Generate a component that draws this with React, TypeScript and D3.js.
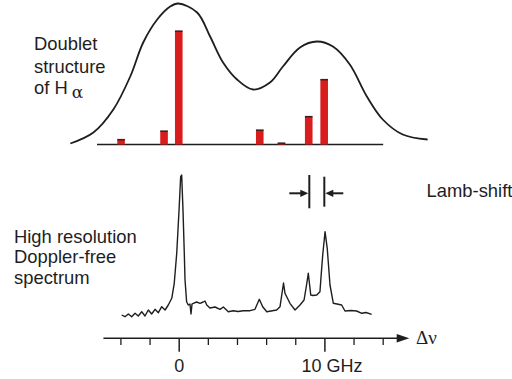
import React from "react";
import * as d3 from "d3";

// Upper panel: Doppler-broadened envelope [GHz, intensity]
const envelopeGHz = [-7.47, -5.89, -4.52, -3.36, -2.47, -1.51, -0.62, -0.07, 1.23, 2.12, 3.01, 3.97, 5.07, 6.23, 7.12, 8.29, 9.45, 10.55, 11.71, 12.88, 13.97, 15.34, 17.05];
const envelopeInt = [1, 12, 35, 68, 102, 125, 138, 141, 132, 108, 82, 65, 55, 62, 78, 97, 103, 98, 80, 48, 25, 10, 5];

// Fine-structure components (stick spectrum)
const lineGHz = [-3.99, -1.04, -0.03, 5.53, 7.02, 8.89, 9.95];
const lineInt = [5, 13.5, 113.5, 14.5, 1.5, 28, 65];

// Lower panel: Doppler-free spectrum [GHz, signal]
const specGHz = [-3.95, -3.72, -3.49, -3.26, -3.03, -2.81, -2.57, -2.35, -2.12, -1.89, -1.66, -1.43, -1.2, -0.97, -0.75, -0.51, -0.34, -0.17, -0.01, 0.1, 0.17, 0.26, 0.35, 0.4, 0.51, 0.62, 0.74, 0.81, 0.88, 0.97, 1.2, 1.43, 1.65, 1.77, 1.89, 2.11, 2.46, 2.8, 3.03, 3.37, 3.71, 4.04, 4.4, 4.86, 5.2, 5.5, 5.73, 6.01, 6.3, 6.69, 6.92, 7.16, 7.26, 7.49, 7.6, 7.95, 8.29, 8.57, 8.74, 8.86, 9.03, 9.18, 9.44, 9.66, 9.77, 9.85, 10.01, 10.16, 10.35, 10.58, 10.83, 11.15, 11.38, 11.79, 12.18, 12.53, 12.82, 13.21];
const specInt = [1, -0.7, 2, -0.7, 2.7, 0, 4.3, 0, 6, 2, 6.7, 3.3, 9.3, 6, 11, 17.7, 32.7, 62.7, 106, 139.3, 141, 106, 62.7, 36, 14.3, 11, 12, 2, 12, 12.7, 14, 12.7, 14, 15, 11, 8, 9, 6.7, 9, 4.3, 5.3, 4.5, 5.3, 5.3, 6.7, 16.7, 9.3, 4.3, 5, 6, 9.3, 33, 22.7, 16, 12.7, 6, 11, 16, 31, 42.7, 21, 20.5, 21, 24.3, 46, 61, 84.3, 67.7, 31, 12.7, 12, 11, 5, 5.5, 5, 2.7, 3.5, 1.7];

// Axis ticks (GHz)
const minorTicks = [-4, -2, 2, 4, 6, 8, 12, 14];
const majorTicks = [0, 10];
const tickLabels = ["0", "10 GHz"];

// Lamb-shift marker positions (GHz)
const lambMarks = [8.93, 9.96];

const W = 512, H = 379;
const font = "'Liberation Sans', Arial, sans-serif";
const ink = "#1e1e1e";

export default function App() {
  const x = d3.scaleLinear().domain([0, 10]).range([179.2, 324.9]);
  const yTop = d3.scaleLinear().domain([0, 140]).range([144.5, 4.5]);
  const yBot = d3.scaleLinear().domain([0, 141]).range([316, 175]);

  const envLine = d3.line<number>()
    .x((_, i) => x(envelopeGHz[i]))
    .y((d) => yTop(d))
    .curve(d3.curveCatmullRom.alpha(0.5));

  const specLine = d3.line<number>()
    .x((_, i) => x(specGHz[i]))
    .y((d) => yBot(d))
    .curve(d3.curveLinear);

  const barW = 7.6;
  const axisY = 338.3;
  const xAxisStart = x(-5.2);
  const xAxisEnd = 398;

  const [l1, l2] = lambMarks.map((g) => x(g));
  const aY = 193.3;

  return (
    <svg width={W} height={H} style={{ position: "absolute", left: 0, top: 0, background: "#fff" }}>
      {/* upper panel baseline */}
      <line x1={x(-5.64)} x2={x(14.0)} y1={yTop(0)} y2={yTop(0)} stroke={ink} strokeWidth={1.6} />
      {/* stick spectrum */}
      {lineInt.map((v, i) => (
        <g key={i}>
          <rect x={x(lineGHz[i]) - barW / 2} y={yTop(v)} width={barW} height={yTop(0) - yTop(v)} fill="#d91c1c" />
          <rect x={x(lineGHz[i]) - barW / 2} y={yTop(v) - 0.6} width={barW} height={1.5} fill="#3a2020" />
        </g>
      ))}
      {/* envelope */}
      <path d={envLine(envelopeInt) || ""} fill="none" stroke={ink} strokeWidth={1.8} />

      {/* Doppler-free spectrum */}
      <path d={specLine(specInt) || ""} fill="none" stroke={ink} strokeWidth={1.4} strokeLinejoin="round" />

      {/* Lamb-shift marker */}
      <line x1={l1} x2={l1} y1={175} y2={208.3} stroke={ink} strokeWidth={2} />
      <line x1={l2} x2={l2} y1={176.7} y2={206.7} stroke={ink} strokeWidth={2} />
      <line x1={289.3} x2={l1 - 6} y1={aY} y2={aY} stroke={ink} strokeWidth={2} />
      <path d={`M${l1 - 1},${aY} L${l1 - 9},${aY - 3.6} L${l1 - 9},${aY + 3.6} Z`} fill={ink} />
      <line x1={343.3} x2={l2 + 6} y1={aY} y2={aY} stroke={ink} strokeWidth={2} />
      <path d={`M${l2 + 1},${aY} L${l2 + 9},${aY - 3.6} L${l2 + 9},${aY + 3.6} Z`} fill={ink} />

      {/* frequency axis */}
      <line x1={xAxisStart} x2={xAxisEnd} y1={axisY} y2={axisY} stroke={ink} strokeWidth={1.5} />
      <path d={`M409.3,${axisY} L396.7,${axisY - 4.3} L396.7,${axisY + 4.3} Z`} fill={ink} />
      {minorTicks.map((t) => (
        <line key={t} x1={x(t)} x2={x(t)} y1={axisY} y2={345} stroke={ink} strokeWidth={1.3} />
      ))}
      {majorTicks.map((t) => (
        <line key={t} x1={x(t)} x2={x(t)} y1={axisY} y2={351.7} stroke={ink} strokeWidth={1.5} />
      ))}
      <text x={x(majorTicks[0])} y={371.5} fontFamily={font} fontSize={18} fill={ink} textAnchor="middle">{tickLabels[0]}</text>
      <text x={x(majorTicks[1]) - 23.3} y={371.5} fontFamily={font} fontSize={18} fill={ink}>{tickLabels[1]}</text>
      <text x={416} y={344} fontFamily="'Liberation Serif', 'Times New Roman', serif" fontSize={19} fill={ink}>Δν</text>

      {/* labels */}
      <g fontFamily={font} fontSize={18.4} fill={ink}>
        <text x={34} y={50}>Doublet</text>
        <text x={34} y={72.5}>structure</text>
        <text x={34} y={93.5}>of H<tspan dx={4} dy={4.5} fontSize={17} fontFamily="'DejaVu Serif', serif">α</tspan></text>
        <text x={14} y={242.5}>High resolution</text>
        <text x={14} y={263}>Doppler-free</text>
        <text x={14} y={283.5}>spectrum</text>
        <text x={426.5} y={197.3}>Lamb-shift</text>
      </g>
    </svg>
  );
}
